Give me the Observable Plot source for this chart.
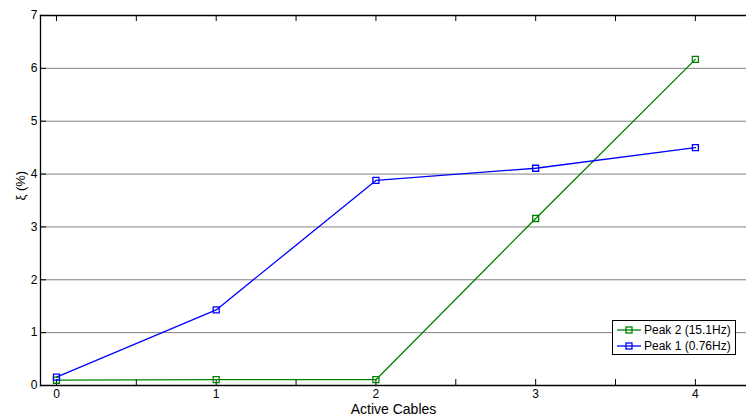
<!DOCTYPE html>
<html>
<head>
<meta charset="utf-8">
<script src="https://cdn.jsdelivr.net/npm/d3@7"></script>
<script src="https://cdn.jsdelivr.net/npm/@observablehq/plot@0.6"></script>
<style>
  html, body { margin: 0; padding: 0; background: #fff; }
  #wrap { position: relative; width: 746px; height: 419px; overflow: hidden; font-family: "Liberation Sans", Arial, sans-serif; }
  #legend { position: absolute; left: 612px; top: 320px; width: 122px; height: 33px; border: 1px solid #000; background: #fff; font-size: 12px; overflow: hidden; }
  #legend .row { position: absolute; left: 4px; height: 15px; display: flex; align-items: center; white-space: nowrap; }
  #legend svg { margin-right: 3px; }
</style>
</head>
<body>
<div id="wrap"></div>
<script>
const cables = [0, 1, 2, 3, 4];
const peak1 = [0.16, 1.43, 3.88, 4.11, 4.50];
const peak2 = [0.10, 0.11, 0.11, 3.16, 6.17];
const seriesNames = ["Peak 2 (15.1Hz)", "Peak 1 (0.76Hz)"];
const seriesColors = ["#008000", "#0000ff"];
const xTicks = [0, 1, 2, 3, 4];
const xMinorTicks = [0, 0.5, 1, 1.5, 2, 2.5, 3, 3.5, 4];
const yTicks = [0, 1, 2, 3, 4, 5, 6, 7];
const yGrid = [1, 2, 3, 4, 5, 6];
const xLabel = "Active Cables";
const yLabel = "ξ (%)";

const rows = [];
cables.forEach((c, i) => rows.push({x: c, y: peak2[i], s: seriesNames[0]}));
cables.forEach((c, i) => rows.push({x: c, y: peak1[i], s: seriesNames[1]}));

const chart = Plot.plot({
  width: 746, height: 419,
  marginTop: 15, marginBottom: 34, marginLeft: 40, marginRight: 0,
  style: {fontFamily: "'Liberation Sans', Arial, sans-serif", fontSize: "12px", color: "#000", background: "#fff", overflow: "hidden"},
  x: {domain: [-0.1, 4.32]},
  y: {domain: [0, 7]},
  color: {domain: seriesNames, range: seriesColors},
  marks: [
    Plot.gridY(yGrid, {stroke: "#808080", strokeOpacity: 1, strokeWidth: 1}),
    Plot.tickX(xMinorTicks, {insetTop: 364, stroke: "#000"}),
    Plot.tickX(xMinorTicks, {insetBottom: 364, stroke: "#000"}),
    Plot.tickY(yTicks, {insetRight: 700, stroke: "#000"}),
    Plot.line(rows, {x: "x", y: "y", z: "s", stroke: "s", strokeWidth: 1.3}),
    Plot.dot(rows, {x: "x", y: "y", stroke: "s", symbol: "square", r: 3.4, fill: "none", strokeWidth: 1.3}),
    Plot.frame({anchor: "left", stroke: "#000", strokeWidth: 1.3}),
    Plot.frame({anchor: "top", stroke: "#000", strokeWidth: 1.3}),
    Plot.frame({anchor: "bottom", stroke: "#000", strokeWidth: 1.3}),
    Plot.axisX(xTicks, {tickSize: 0, tickPadding: 4, label: null, fontSize: 12, tickFormat: d3.format("d")}),
    Plot.axisY(yTicks, {tickSize: 0, tickPadding: 3, label: null, fontSize: 12, tickFormat: d3.format("d")}),
    Plot.text([xLabel], {frameAnchor: "bottom", dy: 28, fontSize: 14, text: d => d}),
    Plot.text([yLabel], {frameAnchor: "left", dx: -20, rotate: -90, fontSize: 13, text: d => d})
  ]
});
const wrap = document.getElementById("wrap");
wrap.appendChild(chart);

const legend = document.createElement("div");
legend.id = "legend";
seriesNames.forEach((name, i) => {
  const row = document.createElement("div");
  row.className = "row";
  row.style.top = (1 + i * 16) + "px";
  const c = seriesColors[i];
  row.innerHTML = `<svg width="24" height="12"><line x1="0" y1="6" x2="24" y2="6" stroke="${c}" stroke-width="1.3"/><rect x="9" y="3" width="6" height="6" fill="none" stroke="${c}" stroke-width="1.3"/></svg><span>${name}</span>`;
  legend.appendChild(row);
});
wrap.appendChild(legend);
</script>
</body>
</html>
